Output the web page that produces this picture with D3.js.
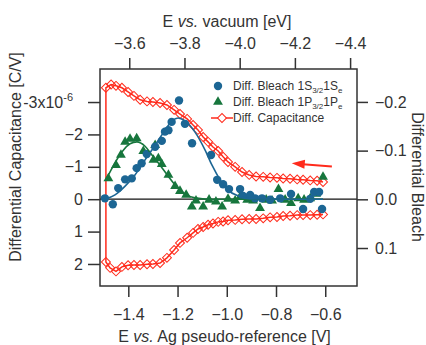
<!DOCTYPE html>
<html>
<head>
<meta charset="utf-8">
<script src="https://cdn.jsdelivr.net/npm/d3@7"></script>
<style>
  body { margin: 0; background: #fff; }
  svg { font-family: "Liberation Sans", Arial, sans-serif; }
</style>
</head>
<body>
<div id="chart"></div>
<script>
// capacitance scan: upper branch (going left), then lower branch (going right) [V, C in 1e-6 C/V]
var capUpper = [[-0.609,-0.53],[-0.633,-0.57],[-0.661,-0.58],[-0.690,-0.60],[-0.714,-0.61],[-0.743,-0.63],
  [-0.771,-0.64],[-0.796,-0.66],[-0.824,-0.67],[-0.852,-0.69],[-0.881,-0.70],[-0.909,-0.75],[-0.938,-0.84],
  [-0.966,-1.00],[-0.995,-1.15],[-1.015,-1.31],[-1.035,-1.49],[-1.056,-1.61],[-1.076,-1.77],[-1.096,-1.92],
  [-1.117,-2.14],[-1.137,-2.29],[-1.161,-2.48],[-1.190,-2.63],[-1.214,-2.76],[-1.243,-2.91],[-1.271,-2.97],
  [-1.300,-3.00],[-1.324,-3.02],[-1.352,-3.07],[-1.377,-3.19],[-1.401,-3.31],[-1.426,-3.44],[-1.450,-3.50],
  [-1.470,-3.54],[-1.491,-3.44]];
var capLower = [[-1.491,1.94],[-1.474,2.12],[-1.450,2.23],[-1.426,2.09],[-1.401,2.04],[-1.377,2.03],
  [-1.352,2.03],[-1.324,2.01],[-1.300,2.00],[-1.271,1.97],[-1.243,1.81],[-1.214,1.57],[-1.190,1.35],
  [-1.161,1.19],[-1.137,1.04],[-1.117,0.92],[-1.096,0.86],[-1.076,0.79],[-1.056,0.75],[-1.035,0.70],
  [-1.015,0.69],[-0.995,0.65],[-0.966,0.64],[-0.938,0.62],[-0.909,0.61],[-0.881,0.61],[-0.852,0.59],
  [-0.824,0.56],[-0.796,0.55],[-0.771,0.52],[-0.743,0.51],[-0.714,0.49],[-0.690,0.49],[-0.661,0.49],
  [-0.633,0.48],[-0.609,0.47]];

// differential bleach 1S3/2 1Se [V, bleach]
var bleachS = [[-1.495,-0.002],[-1.463,0.010],[-1.441,-0.023],[-1.413,-0.041],[-1.386,-0.043],[-1.366,-0.064],
  [-1.346,-0.074],[-1.325,-0.093],[-1.291,-0.108],[-1.264,-0.120],[-1.251,-0.139],[-1.237,-0.142],
  [-1.224,-0.159],[-1.194,-0.203],[-1.170,-0.155],[-1.141,-0.115],[-1.064,-0.091],[-1.039,-0.040],
  [-1.015,-0.031],[-0.991,-0.021],[-0.946,-0.021],[-0.934,-0.007],[-0.905,-0.009],[-0.885,-0.002],
  [-0.857,-0.002],[-0.824,0.001],[-0.783,-0.002],[-0.739,-0.011],[-0.690,0.020],[-0.661,-0.001],
  [-0.645,-0.015],[-0.625,-0.015],[-0.613,0.020]];
var fitS = [[-1.495,0],[-1.454,-0.009],[-1.413,-0.027],[-1.373,-0.050],[-1.332,-0.081],[-1.291,-0.111],
  [-1.251,-0.142],[-1.222,-0.161],[-1.198,-0.167],[-1.170,-0.161],[-1.129,-0.138],[-1.088,-0.101],
  [-1.060,-0.070],[-1.027,-0.040],[-0.995,-0.019],[-0.954,-0.007],[-0.905,-0.001],[-0.609,0]];

// differential bleach 1P3/2 1Pe
var bleachP = [[-1.481,-0.043],[-1.450,-0.070],[-1.430,-0.091],[-1.413,-0.118],[-1.393,-0.124],[-1.366,-0.125],
  [-1.339,-0.099],[-1.298,-0.081],[-1.291,-0.111],[-1.278,-0.084],[-1.264,-0.072],[-1.237,-0.050],
  [-1.210,-0.027],[-1.190,-0.017],[-1.165,-0.009],[-1.142,0.015],[-1.125,0.003],[-1.096,0.015],
  [-1.072,0.001],[-1.044,0.005],[-1.019,0.015],[-0.995,-0.001],[-0.966,0.003],[-0.946,-0.005],
  [-0.917,0.001],[-0.893,0.003],[-0.865,0.018],[-0.840,0.001],[-0.816,0.003],[-0.790,-0.021],
  [-0.763,0.001],[-0.739,0.008],[-0.710,-0.002],[-0.686,0.001],[-0.661,-0.002],[-0.637,-0.011],
  [-0.609,-0.046]];
var fitP = [[-1.487,-0.044],[-1.454,-0.075],[-1.426,-0.097],[-1.393,-0.114],[-1.365,-0.118],[-1.332,-0.109],
  [-1.304,-0.091],[-1.271,-0.070],[-1.239,-0.048],[-1.206,-0.027],[-1.170,-0.011],[-1.129,-0.003],
  [-1.068,0],[-0.609,0]];

// scan direction arrow, [V, C] from tail to head
var arrowPts = [[-0.573,-1.01],[-0.736,-1.11]];

var xTicks = [-1.4, -1.2, -1.0, -0.8, -0.6];
var topTicks = [-3.6, -3.8, -4.0, -4.2, -4.4];
var capTicks = [-3, -2, -1, 0, 1, 2];
var bleachTicks = [-0.2, -0.1, 0.0, 0.1];

var W = 426, H = 345;
var pL = 100, pR = 357, pT = 69, pB = 286;
var blue = "#1c6694", green = "#17763d", red = "#ff2b1c", ink = "#333";

var svg = d3.select("#chart").append("svg")
    .attr("width", W)
    .attr("height", H);

var x = d3.scaleLinear().domain([-1.515, -0.471]).range([pL, pR]);
var xTop = d3.scaleLinear().domain([-3.494, -4.425]).range([pL, pR]);
var yC = d3.scaleLinear().domain([-4.02, 2.68]).range([pT, pB]);
var yB = d3.scaleLinear().domain([-0.2676, 0.178]).range([pT, pB]);

// axes
function styleAxis(g) {
    g.select(".domain").remove();
    g.selectAll(".tick line").attr("stroke", ink).attr("stroke-width", 1.5);
    g.selectAll(".tick text").attr("fill", ink).attr("font-size", 16)
        .attr("font-family", "'Liberation Sans', Arial, sans-serif");
}

svg.append("g")
    .attr("transform", "translate(0," + pB + ")")
    .call(d3.axisBottom(x).tickValues(xTicks).tickSize(11).tickPadding(12).tickFormat(d3.format(".1f")))
    .call(styleAxis);

svg.append("g")
    .attr("transform", "translate(0," + pT + ")")
    .call(d3.axisTop(xTop).tickValues(topTicks).tickSize(11).tickPadding(9).tickFormat(d3.format(".1f")))
    .call(styleAxis);

var capAxis = svg.append("g")
    .attr("transform", "translate(" + pL + ",0)")
    .call(d3.axisLeft(yC).tickValues(capTicks).tickSize(12).tickPadding(5).tickFormat(d3.format("d")))
    .call(styleAxis);
// first label gets the exponent
capAxis.selectAll(".tick text").filter(function(d) { return d === -3; })
    .text("-3x10")
    .attr("dx", -10)
    .append("tspan")
      .attr("font-size", 11)
      .attr("dy", -7)
      .text("-6");

svg.append("g")
    .attr("transform", "translate(" + pR + ",0)")
    .call(d3.axisRight(yB).tickValues(bleachTicks).tickSize(11).tickPadding(7).tickFormat(d3.format(".1f")))
    .call(styleAxis);

// axis titles
svg.append("text")
    .attr("x", (pL + pR) / 2 - 4)
    .attr("y", 342)
    .attr("text-anchor", "middle")
    .attr("font-size", 16)
    .attr("fill", ink)
    .html("E <tspan font-style='italic'>vs.</tspan> Ag pseudo-reference [V]");

svg.append("text")
    .attr("x", 227)
    .attr("y", 27)
    .attr("text-anchor", "middle")
    .attr("font-size", 16)
    .attr("fill", ink)
    .html("E <tspan font-style='italic'>vs.</tspan> vacuum [eV]");

svg.append("text")
    .attr("transform", "translate(21,157) rotate(-90)")
    .attr("text-anchor", "middle")
    .attr("font-size", 16)
    .attr("fill", ink)
    .text("Differential Capacitance [C/V]");

svg.append("text")
    .attr("transform", "translate(412,177) rotate(90)")
    .attr("text-anchor", "middle")
    .attr("font-size", 16)
    .attr("fill", ink)
    .text("Differential Bleach");

// zero line
svg.append("line")
    .attr("x1", pL).attr("x2", pR)
    .attr("y1", yC(0)).attr("y2", yC(0))
    .attr("stroke", "#111")
    .attr("stroke-width", 1.3);

// capacitance loop
var capAll = capUpper.concat(capLower);
var capLine = d3.line().x(d => x(d[0])).y(d => yC(d[1]));
svg.append("path")
    .attr("d", capLine(capAll))
    .attr("fill", "none")
    .attr("stroke", red)
    .attr("stroke-width", 1.5);

var diamond = d3.symbol().type(d3.symbolSquare).size(40);
svg.append("g")
    .selectAll("path")
    .data(capAll)
    .join("path")
      .attr("d", diamond)
      .attr("transform", d => "translate(" + x(d[0]) + "," + yC(d[1]) + ") rotate(45)")
      .attr("fill", "none")
      .attr("stroke", red)
      .attr("stroke-width", 1);

// bleach markers
var tri = d3.symbol().type(d3.symbolTriangle).size(42);
svg.append("g")
    .selectAll("path")
    .data(bleachP)
    .join("path")
      .attr("d", tri)
      .attr("transform", d => "translate(" + x(d[0]) + "," + yB(d[1]) + ")")
      .attr("fill", green);

svg.append("g")
    .selectAll("circle")
    .data(bleachS)
    .join("circle")
      .attr("cx", d => x(d[0]))
      .attr("cy", d => yB(d[1]))
      .attr("r", 4.2)
      .attr("fill", blue);

// fits
var bLine = d3.line().x(d => x(d[0])).y(d => yB(d[1])).curve(d3.curveMonotoneX);
svg.append("path")
    .attr("d", bLine(fitP))
    .attr("fill", "none")
    .attr("stroke", green)
    .attr("stroke-width", 1.6);
svg.append("path")
    .attr("d", bLine(fitS))
    .attr("fill", "none")
    .attr("stroke", blue)
    .attr("stroke-width", 1.6);

// arrow
var a0 = arrowPts[0], a1 = arrowPts[1];
var ax0 = x(a0[0]), ay0 = yC(a0[1]), ax1 = x(a1[0]), ay1 = yC(a1[1]);
var ang = Math.atan2(ay1 - ay0, ax1 - ax0);
svg.append("line")
    .attr("x1", ax0).attr("y1", ay0)
    .attr("x2", ax1 - 8 * Math.cos(ang)).attr("y2", ay1 - 8 * Math.sin(ang))
    .attr("stroke", red)
    .attr("stroke-width", 2);
svg.append("path")
    .attr("d", "M0,0 L-13,-4.5 L-13,4.5 Z")
    .attr("transform", "translate(" + ax1 + "," + ay1 + ") rotate(" + (ang * 180 / Math.PI) + ")")
    .attr("fill", red);

// frame
svg.append("rect")
    .attr("x", pL).attr("y", pT)
    .attr("width", pR - pL).attr("height", pB - pT)
    .attr("fill", "none")
    .attr("stroke", ink)
    .attr("stroke-width", 1.5);

// legend
var lg = svg.append("g").attr("font-size", 12).attr("fill", ink);
lg.append("circle").attr("cx", 218).attr("cy", 86).attr("r", 4.2).attr("fill", blue);
lg.append("path").attr("d", tri).attr("transform", "translate(218,102)").attr("fill", green);
lg.append("line").attr("x1", 211).attr("x2", 233).attr("y1", 118).attr("y2", 118)
    .attr("stroke", red).attr("stroke-width", 1.5);
lg.append("path").attr("d", diamond).attr("transform", "translate(222,118) rotate(45)")
    .attr("fill", "#fff").attr("stroke", red);

var t1 = lg.append("text").attr("x", 233).attr("y", 90);
t1.append("tspan").text("Diff. Bleach 1S");
t1.append("tspan").attr("font-size", 8).attr("dy", 3).text("3/2");
t1.append("tspan").attr("dy", -3).text("1S");
t1.append("tspan").attr("font-size", 8).attr("dy", 3).text("e");

var t2 = lg.append("text").attr("x", 233).attr("y", 106);
t2.append("tspan").text("Diff. Bleach 1P");
t2.append("tspan").attr("font-size", 8).attr("dy", 3).text("3/2");
t2.append("tspan").attr("dy", -3).text("1P");
t2.append("tspan").attr("font-size", 8).attr("dy", 3).text("e");

lg.append("text").attr("x", 233).attr("y", 122).text("Diff. Capacitance");
</script>
</body>
</html>
